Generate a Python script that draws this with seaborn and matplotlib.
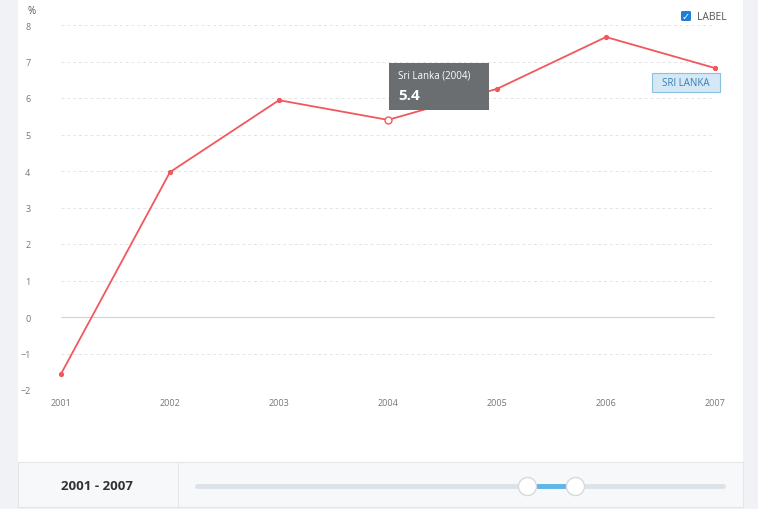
import matplotlib
matplotlib.use("Agg")
import matplotlib.pyplot as plt
import seaborn as sns
import pandas as pd
from matplotlib.patches import Rectangle, FancyBboxPatch

years = [2001, 2002, 2003, 2004, 2005, 2006, 2007]
values = [-1.56, 3.97, 5.94, 5.4, 6.25, 7.67, 6.82]
yticks = [-2, -1, 0, 1, 2, 3, 4, 5, 6, 7, 8]
df = pd.DataFrame({"year": years, "value": values})

sns.set_theme(style="white")
plt.rcParams['font.family'] = ['Open Sans', 'DejaVu Sans']
W, H = 758, 510
fig = plt.figure(figsize=(W/100, H/100), dpi=100)
fig.patch.set_facecolor("#f1f2f5")

def fx(x): return x / W
def fy(y): return 1 - y / H

fig.patches.append(Rectangle((fx(18), fy(463)), fx(743-18), 463/H, transform=fig.transFigure,
                             facecolor="white", edgecolor="none", zorder=-5))
fig.patches.append(Rectangle((fx(18), fy(508)), fx(743-18), 45/H, transform=fig.transFigure,
                             facecolor="#f7f8fa", edgecolor="#e4e6ea", lw=0.8, zorder=-4))
fig.lines.append(plt.Line2D([fx(178), fx(178)], [fy(508), fy(463)], transform=fig.transFigure, color="#e4e6ea", lw=0.8))
fig.text(fx(97), fy(487), "2001 - 2007", ha="center", va="center", fontsize=9.5, fontweight="bold", color="#333")
fig.lines.append(plt.Line2D([fx(197), fx(723)], [fy(487), fy(487)], transform=fig.transFigure, color="#dde1e8", lw=3.5, solid_capstyle="round"))
fig.lines.append(plt.Line2D([fx(527), fx(575)], [fy(487), fy(487)], transform=fig.transFigure, color="#5fb4e8", lw=3.5))
for cx in (527, 575):
    fig.lines.append(plt.Line2D([fx(cx)], [fy(487)], transform=fig.transFigure, marker="o", markersize=13,
                                markerfacecolor="white", markeredgecolor="#d6d9de", lw=0))

ax = fig.add_axes([fx(61), fy(391), fx(715-61), (391-26)/H])
ax.set_zorder(1)
ax.set_facecolor("none")
sns.lineplot(data=df, x="year", y="value", ax=ax, color="#f0585e", lw=1.3,
             marker="o", markersize=3, markeredgecolor="#f0585e", clip_on=False)
ax.plot([2004], [5.4], marker="o", markersize=5, markerfacecolor="white", markeredgecolor="#f0585e", clip_on=False)
ax.set_xlim(2001, 2007)
ax.set_ylim(-2, 8)
ax.set_yticks(yticks)
ax.set_xticks(years)
ax.set_xticklabels([str(y) for y in years])
for t in yticks:
    if t == 0:
        ax.axhline(0, color="#cfd2d6", lw=0.8, zorder=0)
    else:
        ax.axhline(t, color="#e2e4e7", lw=0.7, ls=(0, (3, 3)), zorder=0)
ax.tick_params(axis="both", labelsize=6.5, colors="#777", length=0)
ax.tick_params(axis="y", pad=22)
ax.tick_params(axis="x", pad=6)
for s in ax.spines.values():
    s.set_visible(False)
ax.set_xlabel(""); ax.set_ylabel("")
fig.text(fx(32), fy(11), "%", fontsize=7, color="#555", ha="center", va="center")

ax2 = fig.add_axes([0, 0, 1, 1])
ax2.set_zorder(2)
ax2.set_xlim(0, W); ax2.set_ylim(H, 0); ax2.axis("off")
ax2.add_patch(Rectangle((389, 64), 100, 47, facecolor="#6b6e70", edgecolor="none"))
ax2.text(398, 76, "Sri Lanka (2004)", fontsize=7, color="white", va="center")
ax2.text(398, 96, "5.4", fontsize=11, color="white", fontweight="bold", va="center")
ax2.add_patch(FancyBboxPatch((681, 12), 10, 10, boxstyle="round,pad=0,rounding_size=1.5",
                             facecolor="#1f7fd6", edgecolor="none"))
ax2.text(686, 17.5, "✓", fontsize=7, color="white", ha="center", va="center", fontweight="bold")
ax2.text(697, 17, "LABEL", fontsize=7.5, color="#555", va="center")
ax2.add_patch(Rectangle((652, 74), 68, 19, facecolor="#d5e8f5", edgecolor="#8cbfe0", lw=0.8))
ax2.text(686, 83.5, "SRI LANKA", fontsize=7, color="#3a7cb0", ha="center", va="center")

fig.savefig("out.png", dpi=100, facecolor=fig.get_facecolor())
